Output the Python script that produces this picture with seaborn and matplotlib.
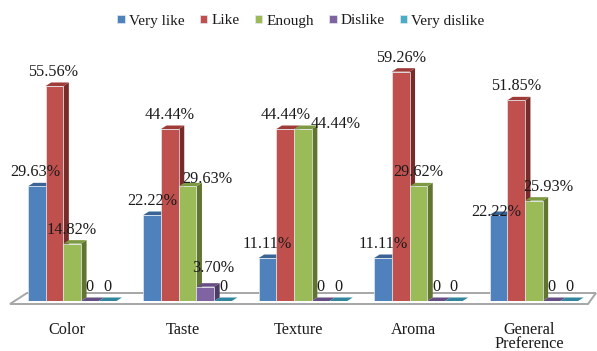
import matplotlib
matplotlib.use("Agg")
import matplotlib.pyplot as plt
import pandas as pd
import seaborn as sns
from matplotlib.patches import Polygon
from matplotlib.transforms import Affine2D, ScaledTranslation

categories = ["Color", "Taste", "Texture", "Aroma", "General\nPreference"]
very_like = [29.63, 22.22, 11.11, 11.11, 22.22]
like = [55.56, 44.44, 44.44, 59.26, 51.85]
enough = [14.82, 29.63, 44.44, 29.62, 25.93]
dislike = [0, 3.70, 0, 0, 0]
very_dislike = [0, 0, 0, 0, 0]
series_names = ["Very like", "Like", "Enough", "Dislike", "Very dislike"]
series_values = [very_like, like, enough, dislike, very_dislike]

front_colors = ["#4F81BD", "#C0504D", "#9BBB59", "#8064A2", "#4BACC6"]
side_colors = ["#2C4D75", "#772C2A", "#5F7530", "#4D3B62", "#276A7C"]
top_colors = ["#3A6496", "#9E3B38", "#7D9A43", "#664E85", "#31859C"]
# (series index, category index): label nudge in px (dx, extra dy) for hand-placed labels
label_nudges = {(2, 1): (20, -7), (2, 2): (33, -9), (2, 4): (15, 0), (3, 1): (8, 5),
                (0, 4): (-2, -11), (0, 0): (-1, 0), (1, 0): (-1, 0), (2, 0): (-1, 0)}

df = pd.DataFrame(
    [(c, n, v) for n, vals in zip(series_names, series_values) for c, v in zip(categories, vals)],
    columns=["category", "series", "value"],
)

sns.set_theme(style="white")
plt.rcParams["font.family"] = ["Liberation Serif", "DejaVu Serif"]

W, H = 597, 351
fig = plt.figure(figsize=(W / 100, H / 100), dpi=100, facecolor="white")
PX_PER_UNIT = 3.87
PX_PER_GROUP = 115.4
BASE_PX = 301
ax = fig.add_axes([0, (H - BASE_PX) / H, 1, BASE_PX / H])
ax.patch.set_alpha(0)

sns.barplot(data=df, x="category", y="value", hue="series", hue_order=series_names,
            palette=front_colors, width=0.767, saturation=1, ax=ax, legend=True,
            linewidth=0.5, edgecolor="#E4EAF2", zorder=3)
ax.set_xlim(-72.2 / PX_PER_GROUP, (W - 72.2) / PX_PER_GROUP)
ax.set_ylim(0, BASE_PX / PX_PER_UNIT)
ax.set_xlabel("")
ax.set_ylabel("")
ax.set_yticks([])
sns.despine(ax=ax, left=True, bottom=True)
ax.tick_params(axis="x", length=0, pad=15, labelsize=11.7, labelcolor="#1a1a1a")
shift = ScaledTranslation(-5 / 100, 0, fig.dpi_scale_trans)
for lab in ax.get_xticklabels():
    lab.set_transform(lab.get_transform() + shift)
    lab.set_linespacing(0.88)

# Chart floor, in figure pixels
px = Affine2D().scale(1 / W, -1 / H).translate(0, 1) + fig.transFigure
ax.add_patch(Polygon([(10, 304), (27, 293), (596, 293), (588, 304)], closed=True, transform=px,
                     facecolor="white", edgecolor="#A6A6A6", linewidth=1.4, zorder=0, clip_on=False))

# 3-D depth faces derived from each drawn bar
dx = 5.5 / PX_PER_GROUP
dy = 3.5 / PX_PER_UNIT
for s, container in enumerate(ax.containers):
    for c, bar in enumerate(container):
        x0, w, h = bar.get_x(), bar.get_width(), bar.get_height()
        x1 = x0 + w
        ax.add_patch(Polygon([(x1, 0), (x1 + dx, dy), (x1 + dx, h + dy), (x1, h)], closed=True,
                             facecolor=side_colors[s], edgecolor="none", zorder=2, clip_on=False))
        ax.add_patch(Polygon([(x0, h), (x0 + dx, h + dy), (x1 + dx, h + dy), (x1, h)], closed=True,
                             facecolor=top_colors[s], edgecolor="none", zorder=2, clip_on=False))
        text = f"{h:.2f}%" if h else "0"
        nx, ny = label_nudges.get((s, c), (0, 0))
        ax.annotate(text, (x0 + w / 2, h), xytext=(nx * 0.72, (14 + ny) * 0.72),
                    textcoords="offset points", ha="center", va="center",
                    fontsize=11.7, color="#1a1a1a", zorder=5, annotation_clip=False)

handles, labels = ax.get_legend_handles_labels()
ax.legend(handles, labels, ncol=5, frameon=False, fontsize=11, loc="center",
          bbox_to_anchor=(301 / W, 1 - 21 / H), bbox_transform=fig.transFigure,
          handlelength=0.5, handleheight=0.5, handletextpad=0.25, columnspacing=1.0,
          labelcolor="#1a1a1a", borderpad=0, borderaxespad=0)

fig.savefig("out.png", dpi=100)
